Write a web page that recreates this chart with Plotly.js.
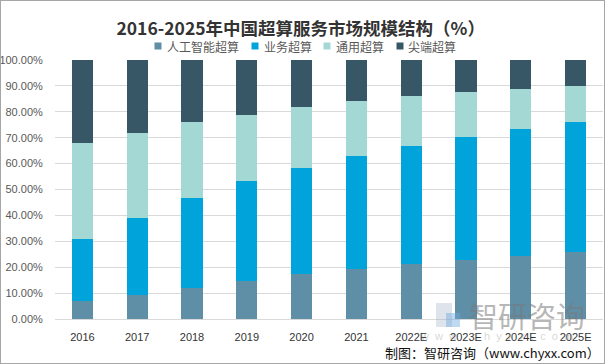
<!DOCTYPE html>
<html>
<head>
<meta charset="utf-8">
<script src="https://cdn.plot.ly/plotly-3.0.1.min.js"></script>
<style>
html,body{margin:0;padding:0;background:#fff;}
#wrap{position:relative;width:605px;height:364px;}
#chart{width:605px;height:364px;}
#border{position:absolute;left:0;top:0;width:603px;height:362px;border:1px solid #a6a6a6;pointer-events:none;}
</style>
</head>
<body>
<div id="wrap"><div id="chart"></div><div id="border"></div></div>
<script>
var years = ['2016','2017','2018','2019','2020','2021','2022E','2023E','2024E','2025E'];
var seriesNames = ['人工智能超算','业务超算','通用超算','尖端超算'];
var aiShare      = [6.8, 9.3, 12.1, 14.7, 17.5, 19.3, 21.3, 22.9, 24.4, 26.0];
var businessShare= [24.2, 29.8, 34.7, 38.6, 40.8, 43.7, 45.5, 47.4, 49.0, 50.1];
var generalShare = [37.0, 32.7, 29.3, 25.5, 23.6, 21.2, 19.3, 17.4, 15.4, 13.9];
var topShare     = [32.0, 28.2, 23.9, 21.2, 18.1, 15.8, 13.9, 12.3, 11.2, 10.0];
var colors = ['#5f8fa7','#00a3da','#a3d8d5','#375766'];

var allVals = [aiShare, businessShare, generalShare, topShare];
var traces = allVals.map(function(v,i){
  return {type:'bar', x:years, y:v, name:seriesNames[i],
    marker:{color:colors[i], line:{width:0}}, hoverinfo:'y+name'};
});

// plot area in pixels: x 55..603, y 60..319
var PL=55, PR=603, PT=60, PB=319;
function px(x){return (x-PL)/(PR-PL);}
function py(y){return (PB-y)/(PB-PT);}

var legendSym = [158,255,327,400];
var legendTxt = [165,262,334,406];
var legY = 46;
var shapes = [];
var annotations = [];
for (var i=0;i<4;i++){
  shapes.push({type:'rect', xref:'paper', yref:'paper',
    x0:px(legendSym[i]-3.5), x1:px(legendSym[i]+3.5), y0:py(legY+3.5), y1:py(legY-3.5),
    line:{width:0}, fillcolor:colors[i]});
  annotations.push({text:seriesNames[i], xref:'paper', yref:'paper', x:px(legendTxt[i]), xanchor:'left',
    y:py(legY), yanchor:'middle', showarrow:false, font:{size:12, color:'#595959'}});
}
// watermark logo blocks
shapes.push({type:'rect', xref:'paper', yref:'paper', x0:px(436), x1:px(452), y0:py(327), y1:py(303), line:{width:0}, fillcolor:'rgba(160,175,200,0.35)'});
shapes.push({type:'rect', xref:'paper', yref:'paper', x0:px(446), x1:px(460), y0:py(327), y1:py(313), line:{width:0}, fillcolor:'rgba(110,170,225,0.45)'});

annotations.push({text:'制图：智研咨询（www.chyxx.com）', xref:'paper', yref:'paper', x:px(602), xanchor:'right', y:py(352), yanchor:'middle',
  showarrow:false, font:{size:13, color:'#111111'}});
annotations.push({text:'智研咨询', xref:'paper', yref:'paper', x:px(527), xanchor:'center', y:py(315), yanchor:'middle',
  showarrow:false, font:{size:29, color:'rgba(120,120,120,0.55)'}});
annotations.push({text:'w  w  w  .  c  h  y  x  x  .  c  o  m', xref:'paper', yref:'paper', x:px(496), xanchor:'center', y:py(336), yanchor:'middle',
  showarrow:false, font:{size:11, color:'rgba(150,150,150,0.4)', family:'"Liberation Sans", sans-serif'}});

var layout = {
  width:605, height:364,
  margin:{l:PL, r:605-PR, t:PT, b:364-PB},
  barmode:'stack', bargap:0.61,
  paper_bgcolor:'#fff', plot_bgcolor:'#fff',
  font:{family:'"Noto Sans CJK SC", "Liberation Sans", sans-serif', color:'#595959'},
  title:{text:'<b>2016-2025年中国超算服务市场规模结构（%）</b>', x:0.497, xanchor:'center', y:0.92, yanchor:'middle',
    font:{size:17.5, color:'#333333', family:'"Noto Sans CJK SC", sans-serif'}},
  showlegend:false,
  xaxis:{type:'category', showgrid:false, zeroline:false, showline:false, ticks:'outside', ticklen:8, tickcolor:'rgba(0,0,0,0)',
    tickfont:{size:11, color:'#333333', family:'"Liberation Sans", sans-serif'}, fixedrange:true},
  yaxis:{range:[0,100], dtick:10, tickformat:'.2f', ticksuffix:'%', showgrid:true, gridcolor:'#d9d9d9', gridwidth:1,
    zeroline:true, zerolinecolor:'#d9d9d9', showline:false, ticks:'outside', ticklen:9, tickcolor:'rgba(0,0,0,0)',
    tickfont:{size:11, color:'#595959', family:'"Liberation Sans", sans-serif'}, fixedrange:true},
  annotations:annotations,
  shapes:shapes
};
Plotly.newPlot('chart', traces, layout, {displayModeBar:false, staticPlot:true});
</script>
</body>
</html>
